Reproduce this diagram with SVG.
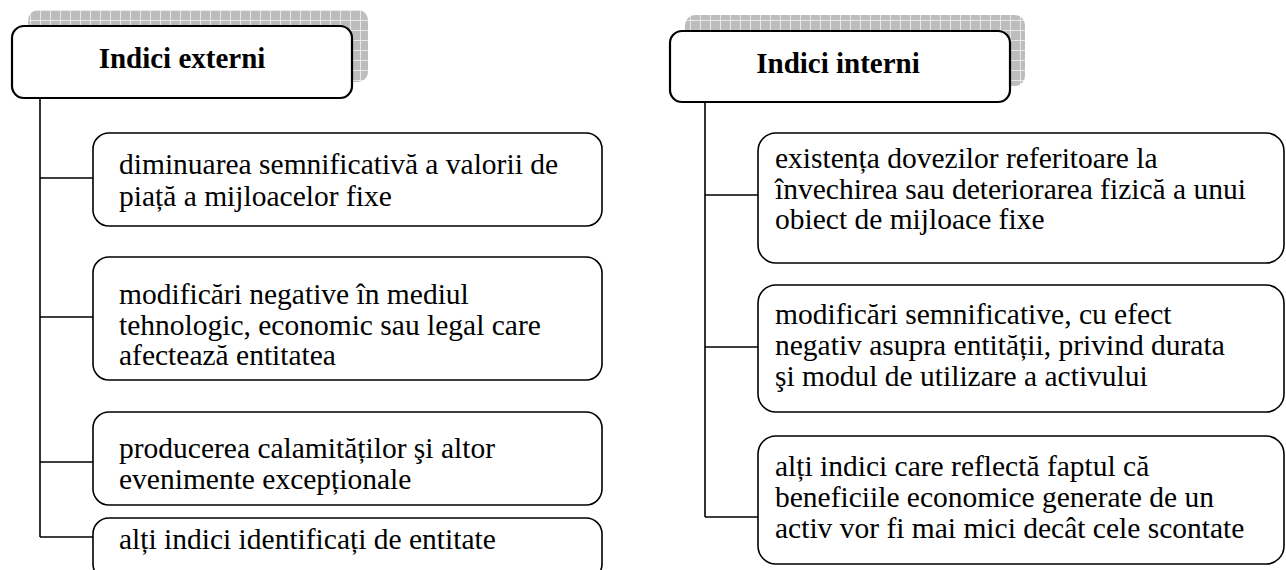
<svg xmlns="http://www.w3.org/2000/svg" width="1286" height="570" viewBox="0 0 1286 570">
<defs>
<pattern id="grid" width="10" height="10" patternUnits="userSpaceOnUse">
<rect width="10" height="10" fill="#bdbdbd"/>
<path d="M0 0.5H10M0.5 0V10" stroke="#e8e8e8" stroke-width="1"/>
</pattern>
<style>
.box{fill:#fff;stroke:#000;stroke-width:1.6}
.hbox{fill:#fff;stroke:#000;stroke-width:2.2}
.sh{fill:url(#grid)}
.t{font-family:"Liberation Serif","Times New Roman",serif;font-size:29.5px;fill:#000}
.h{font-family:"Liberation Serif","Times New Roman",serif;font-size:29px;font-weight:bold;fill:#000;text-anchor:middle}
.c{fill:none;stroke:#000;stroke-width:1.6}
</style>
</defs>
<g id="connectors">
<path class="c" d="M40 98V537M40 178H93M40 317H93M40 462H93M40 537H93"/>
<path class="c" d="M705 102V517M705 195H758M705 347H758M705 517H758"/>
</g>
<g id="head-ext">
<rect class="sh" x="28" y="10" width="340" height="72" rx="10"/>
<rect class="hbox" x="12" y="26" width="340" height="72" rx="12"/>
<text class="h" x="182" y="68">Indici externi</text>
</g>
<g id="head-int">
<rect class="sh" x="685" y="15" width="340" height="71" rx="10"/>
<rect class="hbox" x="670" y="31" width="340" height="71" rx="12"/>
<text class="h" x="838" y="73">Indici interni</text>
</g>
<g id="e1">
<rect class="box" x="93" y="133" width="509" height="93" rx="16"/>
<text class="t" x="119" y="174">diminuarea semnificativă a valorii de</text>
<text class="t" x="119" y="206">piață a mijloacelor fixe</text>
</g>
<g id="e2">
<rect class="box" x="93" y="257" width="509" height="123" rx="16"/>
<text class="t" x="119" y="304">modificări negative în mediul</text>
<text class="t" x="119" y="335">tehnologic, economic sau legal care</text>
<text class="t" x="119" y="365">afectează entitatea</text>
</g>
<g id="e3">
<rect class="box" x="93" y="412" width="509" height="93" rx="16"/>
<text class="t" x="119" y="458">producerea calamităților şi altor</text>
<text class="t" x="119" y="489">evenimente excepționale</text>
</g>
<g id="e4">
<rect class="box" x="93" y="518" width="509" height="62" rx="16"/>
<text class="t" x="119" y="549">alți indici identificați de entitate</text>
</g>
<g id="i1">
<rect class="box" x="758" y="133" width="526" height="130" rx="18"/>
<text class="t" x="775" y="168">existența dovezilor referitoare la</text>
<text class="t" x="775" y="199">învechirea sau deteriorarea fizică a unui</text>
<text class="t" x="775" y="229">obiect de mijloace fixe</text>
</g>
<g id="i2">
<rect class="box" x="758" y="285" width="526" height="127" rx="18"/>
<text class="t" x="775" y="324">modificări semnificative, cu efect</text>
<text class="t" x="775" y="355">negativ asupra entității, privind durata</text>
<text class="t" x="775" y="386">şi modul de utilizare a activului</text>
</g>
<g id="i3">
<rect class="box" x="758" y="436" width="526" height="128" rx="18"/>
<text class="t" x="775" y="476">alți indici care reflectă faptul că</text>
<text class="t" x="775" y="507">beneficiile economice generate de un</text>
<text class="t" x="775" y="538">activ vor fi mai mici decât cele scontate</text>
</g>
</svg>
